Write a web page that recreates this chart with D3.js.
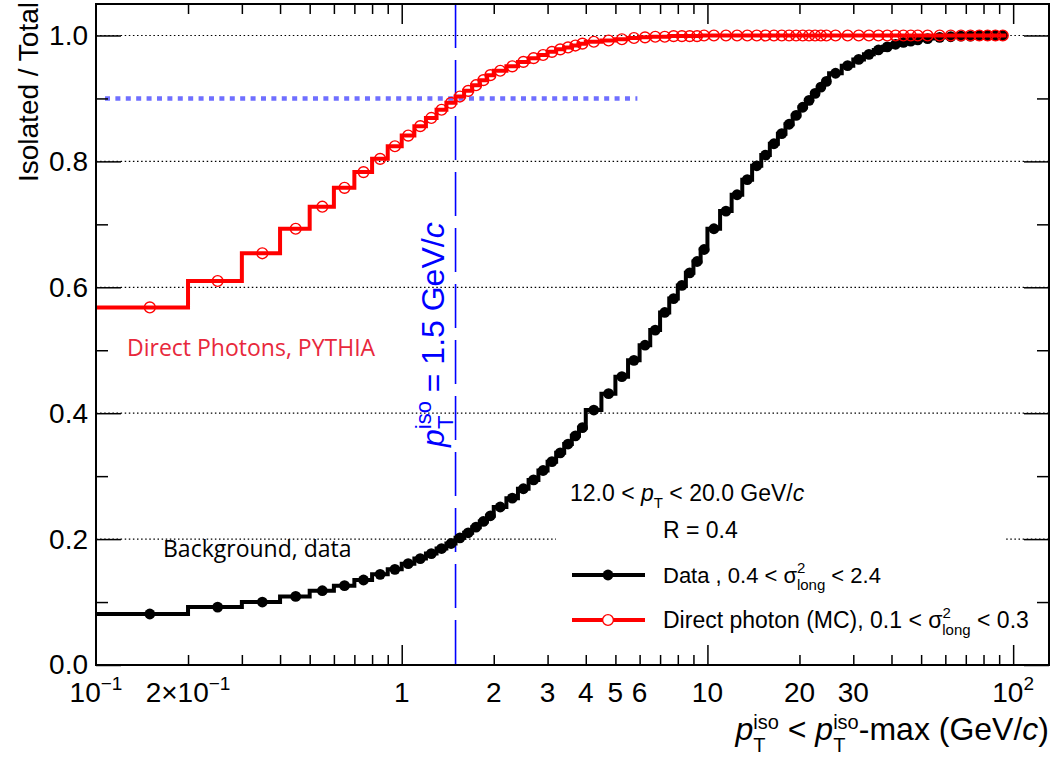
<!DOCTYPE html>
<html>
<head>
<meta charset="utf-8">
<script src="https://cdn.jsdelivr.net/npm/d3@7"></script>
<style>
  body { margin: 0; background: #fff; }
  svg { display: block; }
  text { font-family: "Liberation Sans", Arial, Helvetica, sans-serif; }
</style>
</head>
<body>
<div id="container"></div>
<script>
var WIDTH = 1062;
var HEIGHT = 757;
var FRAME = { LEFT: 96, RIGHT: 1049, TOP: 4, BOTTOM: 665 };

// bin edges of the cumulative histograms (GeV/c)
const binEdges = [
  0.1, 0.2, 0.3, 0.4, 0.5, 0.6, 0.7, 0.8, 0.9, 1.0,
  1.1, 1.2, 1.3, 1.4, 1.5, 1.6, 1.7, 1.8, 1.9, 2.0,
  2.2, 2.4, 2.6, 2.8, 3.0, 3.2, 3.4, 3.6, 3.8, 4.0,
  4.5, 5.0, 5.5, 6.0, 6.5, 7.0, 7.5, 8.0, 8.5, 9.0, 9.5, 10,
  11, 12, 13, 14, 15, 16, 17, 18, 19, 20, 21, 22, 23, 24, 25,
  27.5, 30, 32.5, 35, 37.5, 40, 42.5, 45, 47.5, 50,
  55, 60, 65, 70, 75, 80, 85, 90, 95
];

// background, data: isolated / total
const dataValues = [
  0.081, 0.092, 0.100, 0.109, 0.118, 0.126, 0.135, 0.144, 0.152, 0.161,
  0.169, 0.177, 0.185, 0.193, 0.202, 0.210, 0.219, 0.228, 0.237,
  0.251, 0.265, 0.280, 0.294, 0.309, 0.323, 0.337, 0.351, 0.364, 0.377,
  0.405, 0.431, 0.458, 0.484, 0.508, 0.532, 0.560, 0.582, 0.603, 0.623, 0.641, 0.660,
  0.693, 0.721, 0.747, 0.771, 0.793, 0.810, 0.828, 0.844, 0.859, 0.873,
  0.886, 0.897, 0.908, 0.918, 0.927,
  0.940, 0.952, 0.962, 0.970, 0.977, 0.982, 0.986, 0.989, 0.991, 0.993,
  0.995, 0.997, 0.998, 0.999, 0.999, 1.0, 1.0, 1.0, 1.0
];

// direct photons, PYTHIA
const mcValues = [
  0.568, 0.610, 0.654, 0.693, 0.728, 0.758, 0.783, 0.804, 0.824, 0.841,
  0.856, 0.869, 0.882, 0.893, 0.903, 0.912, 0.921, 0.929, 0.937,
  0.944, 0.951, 0.958, 0.964, 0.969, 0.974, 0.978, 0.981, 0.984, 0.987,
  0.990, 0.992, 0.994, 0.996, 0.997, 0.998, 0.998, 0.999, 0.999, 0.999, 0.999, 1.0,
  1.0, 1.0, 1.0, 1.0, 1.0, 1.0, 1.0, 1.0, 1.0, 1.0,
  1.0, 1.0, 1.0, 1.0, 1.0,
  1.0, 1.0, 1.0, 1.0, 1.0, 1.0, 1.0, 1.0, 1.0, 1.0,
  1.0, 1.0, 1.0, 1.0, 1.0, 1.0, 1.0, 1.0, 1.0
];

const yTicksMajor = [0, 0.2, 0.4, 0.6, 0.8, 1.0];
const yTicksMinor = [0.1, 0.3, 0.5, 0.7, 0.9];
const xTicksMajor = [1, 10, 100];
const xTicksMinor = [0.2, 0.3, 0.4, 0.5, 0.6, 0.7, 0.8, 0.9,
                     2, 3, 4, 5, 6, 7, 8, 9,
                     20, 30, 40, 50, 60, 70, 80, 90];
const xLabelValues = [0.1, 0.2, 1, 2, 3, 4, 5, 6, 10, 20, 30, 100];
const xLabelBase = ['10', '2\u00d710', '1', '2', '3', '4', '5', '6', '10', '20', '30', '10'];
const xLabelSup = ['\u22121', '\u22121', '', '', '', '', '', '', '', '', '', '2'];

const isoCut = 1.5;
const effLevel = 0.9;
const effLineStart = 0.107;
const effLineEnd = 5.9;

const svg = d3.select('#container')
  .append('svg')
    .attr('width', WIDTH)
    .attr('height', HEIGHT);

const x = d3.scaleLog()
  .domain([0.1, 131])
  .range([FRAME.LEFT, FRAME.RIGHT]);

const y = d3.scaleLinear()
  .domain([0, 1.05])
  .range([FRAME.BOTTOM, FRAME.TOP]);

// dotted grid at the major y ticks
svg.append('g')
  .selectAll('line')
  .data(yTicksMajor.slice(1))
  .enter()
  .append('line')
    .attr('x1', FRAME.LEFT).attr('x2', FRAME.RIGHT)
    .attr('y1', d => y(d)).attr('y2', d => y(d))
    .attr('stroke', '#000')
    .attr('stroke-width', 1.2)
    .attr('stroke-dasharray', '1.5,2.6');

// 90% reference line
svg.append('line')
  .attr('x1', x(effLineStart)).attr('x2', x(effLineEnd))
  .attr('y1', y(effLevel)).attr('y2', y(effLevel))
  .attr('stroke', '#6f6fff')
  .attr('stroke-width', 4.5)
  .attr('stroke-dasharray', '5,5.4');

// vertical cut line
svg.append('line')
  .attr('x1', x(isoCut)).attr('x2', x(isoCut))
  .attr('y1', FRAME.TOP).attr('y2', FRAME.BOTTOM)
  .attr('stroke', '#0000ff')
  .attr('stroke-width', 1.6)
  .attr('stroke-dasharray', '44,12');

function stepPoints(values) {
  const pts = values.map((v, i) => [binEdges[i], v]);
  pts.push([binEdges[values.length], values[values.length - 1]]);
  return pts;
}

const stepLine = d3.line()
  .x(d => x(d[0]))
  .y(d => y(d[1]))
  .curve(d3.curveStepAfter);

function centers(values) {
  return values.map((v, i) => ({ c: (binEdges[i] + binEdges[i + 1]) / 2, v: v }));
}

// data histogram
svg.append('path')
  .datum(stepPoints(dataValues))
  .attr('d', stepLine)
  .attr('fill', 'none')
  .attr('stroke', '#000')
  .attr('stroke-width', 4);

svg.append('g')
  .selectAll('circle')
  .data(centers(dataValues))
  .enter()
  .append('circle')
    .attr('cx', d => x(d.c))
    .attr('cy', d => y(d.v))
    .attr('r', 5.4)
    .attr('fill', '#000');

// MC histogram
svg.append('path')
  .datum(stepPoints(mcValues))
  .attr('d', stepLine)
  .attr('fill', 'none')
  .attr('stroke', '#ff0000')
  .attr('stroke-width', 4);

svg.append('g')
  .selectAll('circle')
  .data(centers(mcValues))
  .enter()
  .append('circle')
    .attr('cx', d => x(d.c))
    .attr('cy', d => y(d.v))
    .attr('r', 5.4)
    .attr('fill', 'none')
    .attr('stroke', '#ff0000')
    .attr('stroke-width', 1.4);

// legend
const legend = svg.append('g');
legend.append('rect')
  .attr('x', 556).attr('y', 472)
  .attr('width', 448).attr('height', 176)
  .attr('fill', '#fff');

const header = legend.append('text')
  .attr('x', 570).attr('y', 501)
  .style('font-size', '23px');
header.append('tspan').text('12.0 < ');
header.append('tspan').style('font-style', 'italic').text('p');
header.append('tspan').attr('dy', 7).style('font-size', '15px').text('T');
header.append('tspan').attr('dy', -7).text(' < 20.0 GeV/');
header.append('tspan').style('font-style', 'italic').text('c');

legend.append('text')
  .attr('x', 663).attr('y', 538)
  .style('font-size', '23px')
  .text('R = 0.4');

const entries = [
  { y: 575, color: '#000', filled: true, size: 22, label: ['Data , 0.4 < \u03c3', ' < 2.4'] },
  { y: 620, color: '#ff0000', filled: false, size: 23, label: ['Direct photon (MC), 0.1 < \u03c3', ' < 0.3'] }
];

entries.forEach(e => {
  legend.append('line')
    .attr('x1', 572).attr('x2', 645)
    .attr('y1', e.y).attr('y2', e.y)
    .attr('stroke', e.color)
    .attr('stroke-width', 4);
  legend.append('circle')
    .attr('cx', 608).attr('cy', e.y)
    .attr('r', 5.4)
    .attr('fill', e.filled ? e.color : '#fff')
    .attr('stroke', e.color)
    .attr('stroke-width', e.filled ? 0 : 1.4);
  const t = legend.append('text')
    .attr('x', 663).attr('y', e.y + 8)
    .style('font-size', e.size + 'px');
  t.append('tspan').text(e.label[0]);
  t.append('tspan').attr('dy', -10).style('font-size', '15px').text('2');
  t.append('tspan').attr('dx', -8.5).attr('dy', 17).style('font-size', '15px').text('long');
  t.append('tspan').attr('dy', -7).text(e.label[1]);
});

// annotations
svg.append('text')
  .attr('x', 127).attr('y', 356)
  .style('font-family', '"Open Sans", Lato, sans-serif')
  .style('font-size', '23px')
  .attr('fill', '#e8283c')
  .text('Direct Photons, PYTHIA');

svg.append('text')
  .attr('x', 163).attr('y', 557)
  .style('font-family', '"Open Sans", Lato, sans-serif')
  .style('font-size', '23px')
  .attr('fill', '#000')
  .text('Background, data');

const cutLabel = svg.append('text')
  .attr('transform', 'translate(444,447) rotate(-90)')
  .style('font-size', '32px')
  .attr('fill', '#0000ff');
cutLabel.append('tspan').style('font-style', 'italic').text('p');
cutLabel.append('tspan').attr('dy', -13).style('font-size', '22px').text('iso');
cutLabel.append('tspan').attr('dx', -28).attr('dy', 22).style('font-size', '22px').text('T');
cutLabel.append('tspan').attr('dx', 14.5).attr('dy', -9).text(' = 1.5 GeV/');
cutLabel.append('tspan').style('font-style', 'italic').text('c');

// axes: ticks inside on all four sides
function tickGroup(axis, tx, ty) {
  const g = svg.append('g')
    .attr('transform', `translate(${tx}, ${ty})`)
    .call(axis);
  g.select('.domain').remove();
  g.selectAll('line').attr('stroke', '#000').attr('stroke-width', 1.5);
  return g;
}

const yLeft = tickGroup(d3.axisLeft(y).tickValues(yTicksMajor).tickSize(-25)
  .tickPadding(8).tickFormat(d3.format('.1f')), FRAME.LEFT, 0);
yLeft.selectAll('text')
  .style('font-size', '28px')
  .style('font-family', '"Liberation Sans", Arial, sans-serif');
tickGroup(d3.axisLeft(y).tickValues(yTicksMinor).tickSize(-12).tickFormat(''), FRAME.LEFT, 0);
tickGroup(d3.axisRight(y).tickValues(yTicksMajor).tickSize(-25).tickFormat(''), FRAME.RIGHT, 0);
tickGroup(d3.axisRight(y).tickValues(yTicksMinor).tickSize(-12).tickFormat(''), FRAME.RIGHT, 0);

tickGroup(d3.axisBottom(x).tickValues(xTicksMajor).tickSize(-20).tickFormat(''), 0, FRAME.BOTTOM);
tickGroup(d3.axisBottom(x).tickValues(xTicksMinor).tickSize(-10).tickFormat(''), 0, FRAME.BOTTOM);
tickGroup(d3.axisTop(x).tickValues(xTicksMajor).tickSize(-20).tickFormat(''), 0, FRAME.TOP);
tickGroup(d3.axisTop(x).tickValues(xTicksMinor).tickSize(-10).tickFormat(''), 0, FRAME.TOP);

// x tick labels with exponents
const xLabels = svg.append('g');
xLabelValues.forEach((v, i) => {
  const t = xLabels.append('text')
    .attr('x', x(v)).attr('y', 702)
    .attr('text-anchor', 'middle')
    .style('font-size', '28px');
  t.append('tspan').text(xLabelBase[i]);
  if (xLabelSup[i]) {
    t.append('tspan').attr('dy', -12).style('font-size', '19px').text(xLabelSup[i]);
  }
});

// frame
svg.append('rect')
  .attr('x', FRAME.LEFT).attr('y', FRAME.TOP)
  .attr('width', FRAME.RIGHT - FRAME.LEFT)
  .attr('height', FRAME.BOTTOM - FRAME.TOP)
  .attr('fill', 'none')
  .attr('stroke', '#000')
  .attr('stroke-width', 2);

// axis titles
svg.append('text')
  .attr('transform', `translate(38, ${FRAME.TOP - 2}) rotate(-90)`)
  .attr('text-anchor', 'end')
  .style('font-size', '28px')
  .text('Isolated / Total');

const xTitle = svg.append('text')
  .attr('x', 1049).attr('y', 740)
  .attr('text-anchor', 'end')
  .style('font-size', '32px');
xTitle.append('tspan').style('font-style', 'italic').text('p');
xTitle.append('tspan').attr('dy', -11).style('font-size', '20px').text('iso');
xTitle.append('tspan').attr('dx', -25.6).attr('dy', 23).style('font-size', '20px').text('T');
xTitle.append('tspan').attr('dx', 13.4).attr('dy', -12).text(' < ');
xTitle.append('tspan').style('font-style', 'italic').text('p');
xTitle.append('tspan').attr('dy', -11).style('font-size', '20px').text('iso');
xTitle.append('tspan').attr('dx', -25.6).attr('dy', 23).style('font-size', '20px').text('T');
xTitle.append('tspan').attr('dx', 13.4).attr('dy', -12).text('-max (GeV/');
xTitle.append('tspan').style('font-style', 'italic').text('c');
xTitle.append('tspan').text(')');
</script>
</body>
</html>
